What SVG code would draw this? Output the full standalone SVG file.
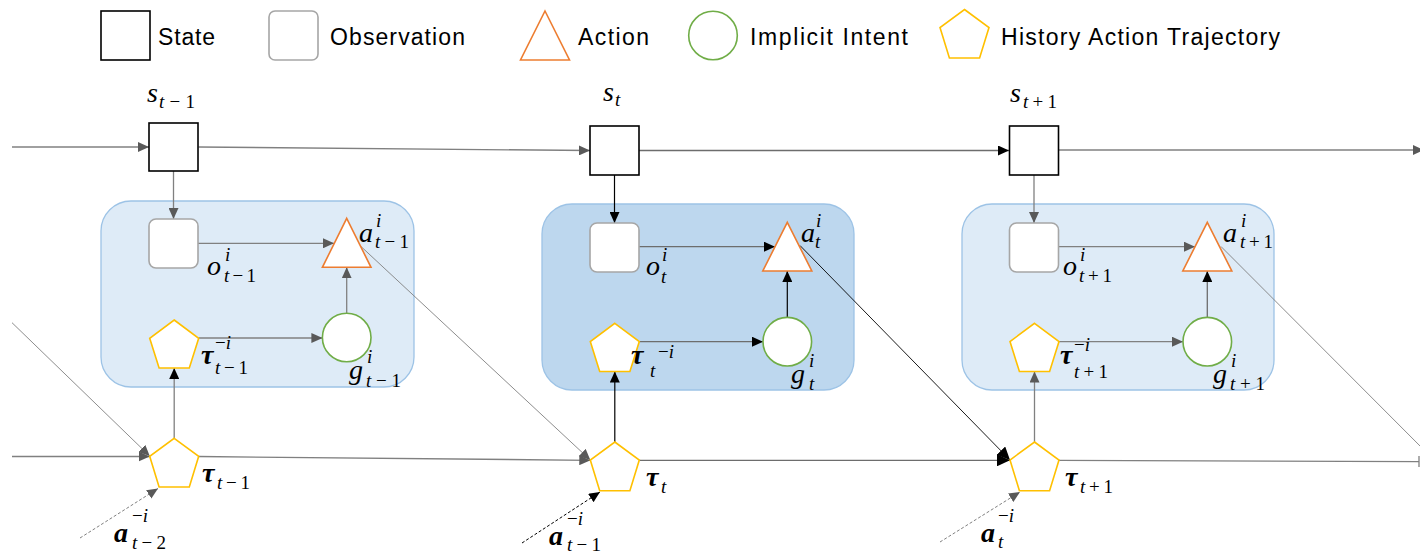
<svg xmlns="http://www.w3.org/2000/svg" width="1420" height="555" viewBox="0 0 1420 555">
<style>
.state{fill:#fff;stroke:#000;stroke-width:1.6}
.obs{fill:#fff;stroke:#a6a6a6;stroke-width:1.6}
.act{fill:#fff;stroke:#ed7d31;stroke-width:1.6}
.intent{fill:#fff;stroke:#70ad47;stroke-width:1.6}
.hist{fill:#fff;stroke:#ffc000;stroke-width:1.6}
.boxL{fill:#deebf7;stroke:#9dc3e6;stroke-width:1.3}
.boxD{fill:#bdd7ee;stroke:#9dc3e6;stroke-width:1.3}
.leg{font-family:"Liberation Sans",Arial,sans-serif;font-size:23px;fill:#000}
.m{font-family:"Liberation Serif","DejaVu Serif",serif;font-style:italic;font-size:28px;fill:#000}
.mb{font-family:"Liberation Serif","DejaVu Serif",serif;font-style:italic;font-weight:bold;font-size:28px;fill:#000}
.s{font-family:"Liberation Serif","DejaVu Serif",serif;font-style:italic;font-size:19px;fill:#000}
.r{font-style:normal}
.g{fill:none;stroke:#808080;stroke-width:1.3}
.gd{fill:none;stroke:#6d6d6d;stroke-width:1.3}
.k{fill:none;stroke:#000;stroke-width:1.2}
.gt{fill:none;stroke:#808080;stroke-width:0.9}
.kt{fill:none;stroke:#000;stroke-width:0.9}
.gdash{fill:none;stroke:#808080;stroke-width:1;stroke-dasharray:3 2}
.kdash{fill:none;stroke:#000;stroke-width:1;stroke-dasharray:3 2}
</style>
<defs>
<marker id="ag" markerUnits="userSpaceOnUse" markerWidth="11" markerHeight="10" refX="11" refY="5" orient="auto"><path d="M0,0 L11,5 L0,10 z" fill="#595959"/></marker>
<marker id="ak" markerUnits="userSpaceOnUse" markerWidth="11" markerHeight="10" refX="11" refY="5" orient="auto"><path d="M0,0 L11,5 L0,10 z" fill="#000"/></marker>
<marker id="akb" markerUnits="userSpaceOnUse" markerWidth="13" markerHeight="12" refX="13" refY="6" orient="auto"><path d="M0,0 L13,6 L0,12 z" fill="#000"/></marker>
</defs>

<g id="legend">
<rect class="state" x="101" y="11" width="49" height="49"/>
<text class="leg" x="158" y="45" textLength="57" lengthAdjust="spacing">State</text>
<rect class="obs" x="269" y="11" width="49" height="49" rx="6"/>
<text class="leg" x="330" y="45" textLength="135" lengthAdjust="spacing">Observation</text>
<polygon class="act" points="545,11 569.5,60 520.5,60"/>
<text class="leg" x="578" y="45" textLength="71" lengthAdjust="spacing">Action</text>
<circle class="intent" cx="713" cy="35.5" r="24.3"/>
<text class="leg" x="750" y="45" textLength="158" lengthAdjust="spacing">Implicit Intent</text>
<polygon class="hist" points="964.5,9.5 989,27.5 979.6,58 949.4,58 940,27.5"/>
<text class="leg" x="1001" y="45" textLength="279" lengthAdjust="spacing">History Action Trajectory</text>
</g>

<g id="box1"><rect class="boxL" x="101" y="201" width="313" height="186" rx="30"/></g>
<g id="box2"><rect class="boxD" x="542" y="204" width="312" height="186" rx="30"/></g>
<g id="box3"><rect class="boxL" x="962" y="204" width="312" height="186" rx="30"/></g>

<g id="connectors">
<path class="g" d="M12,147 L149,147" marker-end="url(#ag)"/>
<path class="g" d="M198.5,147 L590,150.5" marker-end="url(#ag)"/>
<path class="gd" d="M639,150.5 L1009,150.5" marker-end="url(#ak)"/>
<path class="g" d="M1059,150 L1424,150" marker-end="url(#ag)"/>
<path class="g" d="M173.5,171 L173.5,219" marker-end="url(#ag)"/>
<path class="k" d="M614.5,175 L614.5,223" marker-end="url(#ak)"/>
<path class="g" d="M1034,175 L1034,223" marker-end="url(#ag)"/>
<path class="g" d="M198,243.3 L334,243.3" marker-end="url(#ag)"/>
<path class="gd" d="M639,246.7 L775,246.7" marker-end="url(#ak)"/>
<path class="g" d="M1059,246.7 L1195,246.7" marker-end="url(#ag)"/>
<path class="g" d="M346.7,313 L346.7,267.3" marker-end="url(#ag)"/>
<path class="k" d="M787.3,317.7 L787.3,271" marker-end="url(#ak)"/>
<path class="gd" d="M1207.3,317.7 L1207.3,271" marker-end="url(#ak)"/>
<path class="g" d="M198.7,338 L322.4,338" marker-end="url(#ag)"/>
<path class="gd" d="M639.3,341.7 L763,341.7" marker-end="url(#ak)"/>
<path class="g" d="M1059,341.7 L1183,341.7" marker-end="url(#ag)"/>
<path class="g" d="M174.2,438.3 L174.2,368" marker-end="url(#ak)"/>
<path class="k" d="M614.8,442 L614.8,371.5" marker-end="url(#ak)"/>
<path class="g" d="M1034.5,442 L1034.5,371.5" marker-end="url(#ag)"/>
<path class="g" d="M12,456.5 L149.7,456.5" marker-end="url(#ag)"/>
<path class="g" d="M198.7,456.5 L590.3,460.3" marker-end="url(#ag)"/>
<path class="gd" d="M639.3,460.3 L1010,460.3" marker-end="url(#akb)"/>
<path class="g" d="M1059,460.3 L1419,461.7"/>
<path class="g" d="M1419,456 L1419,467"/>
<path class="gt" d="M12,322.7 L149.7,456" marker-end="url(#ag)"/>
<path class="gt" d="M361,246.5 L590.3,460" marker-end="url(#ag)"/>
<path class="kt" d="M800,245.5 L1010,460" marker-end="url(#akb)"/>
<path class="gt" d="M1221,246.5 L1440,466"/>
<path class="gdash" d="M80,538 L158,488.5" marker-end="url(#ag)"/>
<path class="kdash" d="M522,543 L600,492" marker-end="url(#ak)"/>
<path class="gdash" d="M940,542 L1020,492" marker-end="url(#ag)"/>
</g>

<g id="state1"><rect class="state" x="149" y="123" width="49" height="48"/>
<text class="m" x="147" y="102">s</text><text class="s" x="159" y="108" textLength="36" lengthAdjust="spacing">t<tspan class="r">−1</tspan></text></g>
<g id="state2"><rect class="state" x="590" y="126" width="49" height="49"/>
<text class="m" x="603" y="101">s</text><text class="s" x="615" y="106">t</text></g>
<g id="state3"><rect class="state" x="1009.5" y="126" width="49" height="49"/>
<text class="m" x="1010" y="102">s</text><text class="s" x="1023" y="108" textLength="34" lengthAdjust="spacing">t<tspan class="r">+1</tspan></text></g>

<g id="obs1"><rect class="obs" x="149" y="219" width="49" height="49" rx="7"/>
<text class="m" x="207" y="275">o</text><text class="s" x="225" y="261">i</text><text class="s" x="224" y="282" textLength="32" lengthAdjust="spacing">t<tspan class="r">−1</tspan></text></g>
<g id="obs2"><rect class="obs" x="590" y="223" width="49" height="49" rx="7"/>
<text class="m" x="646" y="275">o</text><text class="s" x="662" y="261">i</text><text class="s" x="661" y="283">t</text></g>
<g id="obs3"><rect class="obs" x="1009.5" y="223" width="49" height="49" rx="7"/>
<text class="m" x="1063" y="275">o</text><text class="s" x="1080" y="261">i</text><text class="s" x="1079" y="282" textLength="33" lengthAdjust="spacing">t<tspan class="r">+1</tspan></text></g>

<g id="act1"><polygon class="act" points="346.7,218.3 371,267.3 322.4,267.3"/>
<text class="m" x="359" y="242">a</text><text class="s" x="376" y="227">i</text><text class="s" x="375" y="248" textLength="34" lengthAdjust="spacing">t<tspan class="r">−1</tspan></text></g>
<g id="act2"><polygon class="act" points="787.3,222.3 811.8,271 762.8,271"/>
<text class="m" x="801" y="242">a</text><text class="s" x="816" y="227">i</text><text class="s" x="815" y="248">t</text></g>
<g id="act3"><polygon class="act" points="1207.3,222.3 1231.8,271 1182.8,271"/>
<text class="m" x="1223" y="242">a</text><text class="s" x="1241" y="227">i</text><text class="s" x="1240" y="248" textLength="33" lengthAdjust="spacing">t<tspan class="r">+1</tspan></text></g>

<g id="intent1"><circle class="intent" cx="346.7" cy="337.5" r="24.3"/>
<text class="m" x="349" y="379">g</text><text class="s" x="367" y="363">i</text><text class="s" x="366" y="387" textLength="35" lengthAdjust="spacing">t<tspan class="r">−1</tspan></text></g>
<g id="intent2"><circle class="intent" cx="787.3" cy="341.7" r="24.3"/>
<text class="m" x="791" y="383">g</text><text class="s" x="809" y="367">i</text><text class="s" x="809" y="390">t</text></g>
<g id="intent3"><circle class="intent" cx="1207.3" cy="341.7" r="24.3"/>
<text class="m" x="1213" y="383">g</text><text class="s" x="1231" y="367">i</text><text class="s" x="1230" y="390" textLength="35" lengthAdjust="spacing">t<tspan class="r">+1</tspan></text></g>

<g id="hist1"><polygon class="hist" points="174.2,320 198.7,338.3 189.3,368 159.1,368 149.7,338.3"/>
<text class="mb" x="201" y="364">τ</text><text class="s" x="215" y="349"><tspan class="r">−</tspan>i</text><text class="s" x="215" y="374" textLength="33" lengthAdjust="spacing">t<tspan class="r">−1</tspan></text></g>
<g id="hist2"><polygon class="hist" points="614.8,323.3 639.3,341.6 629.9,371.5 599.7,371.5 590.3,341.6"/>
<text class="mb" x="631" y="364">τ</text><text class="s" x="650" y="377">t</text><text class="s" x="658" y="358"><tspan class="r">−</tspan>i</text></g>
<g id="hist3"><polygon class="hist" points="1034.5,323.3 1059,341.6 1049.6,371.5 1019.4,371.5 1010,341.6"/>
<text class="mb" x="1060" y="364">τ</text><text class="s" x="1074" y="351"><tspan class="r">−</tspan>i</text><text class="s" x="1074" y="378" textLength="34" lengthAdjust="spacing">t<tspan class="r">+1</tspan></text></g>

<g id="traj1"><polygon class="hist" points="174.2,438.3 198.7,456.3 189.3,487 159.1,487 149.7,456.3"/>
<text class="mb" x="202" y="482">τ</text><text class="s" x="217" y="489" textLength="33" lengthAdjust="spacing">t<tspan class="r">−1</tspan></text></g>
<g id="traj2"><polygon class="hist" points="614.8,442 639.3,460 629.9,490.7 599.7,490.7 590.3,460"/>
<text class="mb" x="646" y="486">τ</text><text class="s" x="661" y="493">t</text></g>
<g id="traj3"><polygon class="hist" points="1034.5,442 1059,460 1049.6,490.7 1019.4,490.7 1010,460"/>
<text class="mb" x="1065" y="486">τ</text><text class="s" x="1080" y="493" textLength="33" lengthAdjust="spacing">t<tspan class="r">+1</tspan></text></g>

<g id="other1"><text class="mb" x="114" y="542">a</text><text class="s" x="132" y="522"><tspan class="r">−</tspan>i</text><text class="s" x="132" y="549" textLength="34" lengthAdjust="spacing">t<tspan class="r">−2</tspan></text></g>
<g id="other2"><text class="mb" x="549" y="545">a</text><text class="s" x="567" y="525"><tspan class="r">−</tspan>i</text><text class="s" x="567" y="551" textLength="34" lengthAdjust="spacing">t<tspan class="r">−1</tspan></text></g>
<g id="other3"><text class="mb" x="981" y="542">a</text><text class="s" x="998" y="522"><tspan class="r">−</tspan>i</text><text class="s" x="998" y="548">t</text></g>
</svg>
